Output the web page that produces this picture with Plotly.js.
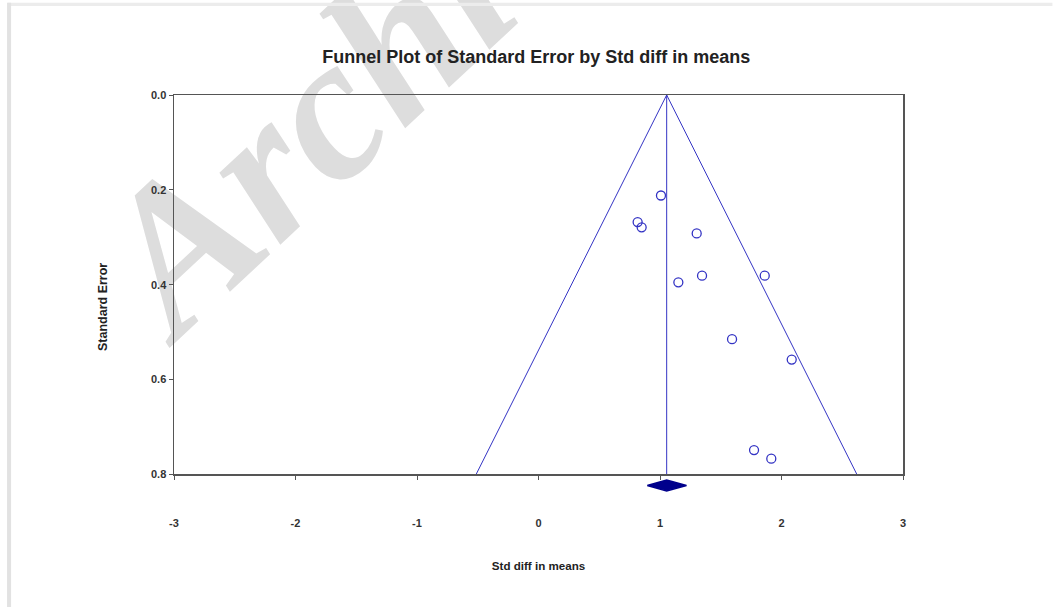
<!DOCTYPE html>
<html>
<head>
<meta charset="utf-8">
<script src="https://cdn.plot.ly/plotly-3.0.1.min.js"></script>
<style>
  html, body { margin: 0; padding: 0; background: #ffffff; overflow: hidden; }
  #wrap { position: relative; width: 1056px; height: 607px; overflow: hidden; }
  #chart { position: absolute; left: 0; top: 0; width: 1056px; height: 607px; z-index: 1; }
  #watermark {
    position: absolute; left: 401px; top: 38px; z-index: 0;
    transform: translate(-50%, -50%) rotate(-43deg);
    font-family: 'Liberation Serif', 'Times New Roman', serif;
    font-weight: bold; font-style: italic; font-size: 205px; line-height: 1.25;
    color: #dddddd; white-space: nowrap;
  }
</style>
</head>
<body>
<div id="wrap">
  <div id="watermark"></div>
  <div id="chart"></div>
</div>
<script>
// ---- data ----
const studyEffect = [1.008, 0.816, 0.849, 1.302, 1.151, 1.346, 1.862, 1.593, 2.084, 1.774, 1.916];
const studySE     = [0.212, 0.268, 0.279, 0.292, 0.395, 0.381, 0.381, 0.515, 0.558, 0.749, 0.767];

const pooledEffect = 1.055;
const pooledLower  = 0.895;
const pooledUpper  = 1.218;

const funnelSE     = [0, 0.8];
const funnelLeftX  = [1.055, -0.513];
const funnelRightX = [1.055, 2.620];

const xTickValues = [-3, -2, -1, 0, 1, 2, 3];
const yTickValues = [0, 0.2, 0.4, 0.6, 0.8];

const titleText  = 'Funnel Plot of Standard Error by Std diff in means';
const xTitleText = 'Std diff in means';
const yTitleText = 'Standard Error';
const watermarkText = 'Archives';

document.getElementById('watermark').textContent = watermarkText;

// ---- styles ----
const blue = '#3434c4';
const navy = '#00008c';
const font = 'Liberation Sans, Arial, sans-serif';

const traces = [
  { // left funnel limit
    x: funnelLeftX, y: funnelSE, xaxis: 'x', yaxis: 'y',
    mode: 'lines', line: { color: blue, width: 1 }, hoverinfo: 'skip', showlegend: false
  },
  { // right funnel limit
    x: funnelRightX, y: funnelSE, xaxis: 'x', yaxis: 'y',
    mode: 'lines', line: { color: blue, width: 1 }, hoverinfo: 'skip', showlegend: false
  },
  { // pooled effect line
    x: [pooledEffect, pooledEffect], y: funnelSE, xaxis: 'x', yaxis: 'y',
    mode: 'lines', line: { color: blue, width: 1 }, hoverinfo: 'skip', showlegend: false
  },
  { // studies
    x: studyEffect, y: studySE, xaxis: 'x', yaxis: 'y',
    mode: 'markers', showlegend: false,
    marker: { symbol: 'circle-open', size: 9, color: blue, line: { width: 1.3, color: blue } }
  },
  { // pooled diamond
    x: [pooledLower, pooledEffect, pooledUpper, pooledEffect, pooledLower],
    y: [0, 0.25, 0, -0.25, 0], xaxis: 'x', yaxis: 'y2',
    mode: 'lines', fill: 'toself', fillcolor: navy,
    line: { color: navy, width: 1.5 }, showlegend: false, hoverinfo: 'skip'
  }
];

const tickFont = { family: font, size: 11, color: '#333333', weight: 'bold' };

const layout = {
  width: 1056, height: 607,
  margin: { l: 174, r: 153, t: 95, b: 100 },
  paper_bgcolor: 'rgba(0,0,0,0)', plot_bgcolor: 'rgba(0,0,0,0)',
  showlegend: false,
  title: {
    text: '<b>' + titleText + '</b>',
    font: { family: font, size: 18, color: '#222222' },
    x: 0.497, xref: 'paper', xanchor: 'center',
    y: 1 - 57 / 607, yref: 'container', yanchor: 'middle'
  },
  xaxis: {
    range: [-3, 3], tickvals: xTickValues, ticktext: xTickValues.map(String),
    showgrid: false, zeroline: false,
    showline: true, mirror: true, linecolor: '#555555', linewidth: 1.5,
    ticks: 'outside', ticklen: 4, tickcolor: '#555555', tickwidth: 1,
    tickfont: tickFont, ticklabelstandoff: 34,
    anchor: 'y',
    title: { text: '<b>' + xTitleText + '</b>', font: { family: font, size: 11.6, color: '#222222' }, standoff: 34 }
  },
  yaxis: {
    domain: [1 - 379.3 / 412, 1],
    range: [0.8, 0], tickvals: yTickValues, tickformat: '.1f',
    showgrid: false, zeroline: false,
    showline: true, mirror: true, linecolor: '#555555', linewidth: 1.5,
    ticks: 'outside', ticklen: 4, tickcolor: '#555555', tickwidth: 1,
    tickfont: tickFont,
    title: { text: '' }
  },
  yaxis2: {
    domain: [0, 1 - 379.3 / 412 - 0.001],
    range: [-1, 0.5], visible: false, fixedrange: true
  },
  shapes: [
    { type: 'rect', xref: 'paper', yref: 'paper', layer: 'below',
      x0: -0.228, x1: 1.205, y0: 1.216, y1: 1.224,
      fillcolor: '#ececec', line: { width: 0 } },
    { type: 'rect', xref: 'paper', yref: 'paper', layer: 'below',
      x0: -0.229, x1: -0.2235, y0: -0.25, y1: 1.224,
      fillcolor: '#e2e2e2', line: { width: 0 } }
  ],
  annotations: [
    { text: '<b>' + yTitleText + '</b>', xref: 'paper', yref: 'paper',
      x: (103 - 174) / 729, y: (507 - 307) / 412, xanchor: 'center', yanchor: 'middle',
      showarrow: false, textangle: -90,
      font: { family: font, size: 12.5, color: '#222222' } }
  ]
};

Plotly.newPlot('chart', traces, layout, { displayModeBar: false, staticPlot: true });
</script>
</body>
</html>
